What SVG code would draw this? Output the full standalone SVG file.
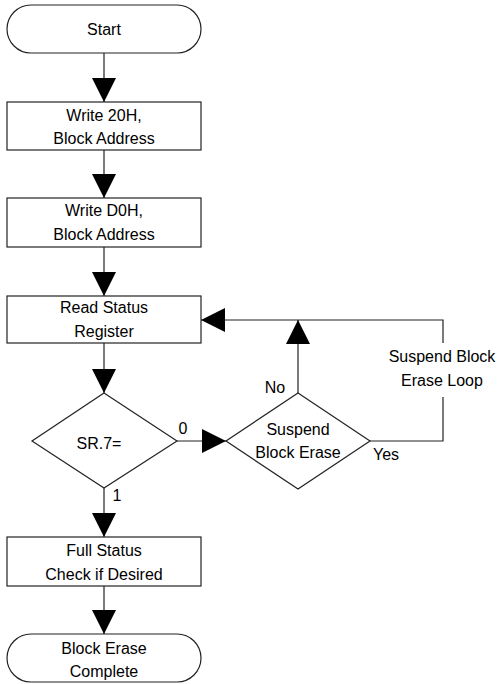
<svg xmlns="http://www.w3.org/2000/svg" width="497" height="684" viewBox="0 0 497 684">
<style>
.shape{fill:#fff;stroke:#222;stroke-width:1.2}
.conn{fill:none;stroke:#222;stroke-width:1.2}
text{font-family:"Liberation Sans",Arial,Helvetica,sans-serif;font-size:16px;fill:#000;text-anchor:middle}
</style>
<defs>
<marker id="ah" viewBox="0 0 24 24" refX="24" refY="12" markerWidth="24" markerHeight="24" markerUnits="userSpaceOnUse" orient="auto">
<path d="M0,0 L24,12 L0,24 Z" fill="#000"/>
</marker>
</defs>
<rect width="497" height="684" fill="#fff"/>
<g id="connectors">
<path class="conn" d="M104,53 V102" marker-end="url(#ah)"/>
<path class="conn" d="M104,150 V198" marker-end="url(#ah)"/>
<path class="conn" d="M104,247 V296" marker-end="url(#ah)"/>
<path class="conn" d="M104,343 V393" marker-end="url(#ah)"/>
<path class="conn" d="M177,441 H226" marker-end="url(#ah)"/>
<path class="conn" d="M298,393 V320" marker-end="url(#ah)"/>
<path class="conn" d="M370,441 H443 V397"/>
<path class="conn" d="M443,343 V320 H201" marker-end="url(#ah)"/>
<path class="conn" d="M104,488 V537" marker-end="url(#ah)"/>
<path class="conn" d="M104,586 V634" marker-end="url(#ah)"/>
<text x="183" y="433.5">0</text>
<text x="117" y="500.5">1</text>
<text x="275" y="392.5">No</text>
<text x="386" y="459.5">Yes</text>
<text x="442" y="361.5">Suspend Block</text>
<text x="442" y="385.5">Erase Loop</text>
</g>
<g id="start">
<rect class="shape" x="7" y="5" width="194" height="48" rx="24" ry="24"/>
<text x="104" y="34.5">Start</text>
</g>
<g id="write20">
<rect class="shape" x="7" y="102" width="194" height="48"/>
<text x="104" y="120.5">Write 20H,</text>
<text x="104" y="143.5">Block Address</text>
</g>
<g id="writeD0">
<rect class="shape" x="7" y="198" width="194" height="49"/>
<text x="104" y="215.5">Write D0H,</text>
<text x="104" y="239.5">Block Address</text>
</g>
<g id="readstatus">
<rect class="shape" x="7" y="296" width="194" height="47"/>
<text x="104" y="312.5">Read Status</text>
<text x="104" y="337">Register</text>
</g>
<g id="sr7">
<polygon class="shape" points="104,393 177,441 104,488 32,441"/>
<text x="99" y="448.5">SR.7=</text>
</g>
<g id="suspend">
<polygon class="shape" points="298,393 370,441 298,489 226,441"/>
<text x="298" y="434.5">Suspend</text>
<text x="298" y="457.5">Block Erase</text>
</g>
<g id="fullstatus">
<rect class="shape" x="7" y="537" width="194" height="49"/>
<text x="104" y="555.5">Full Status</text>
<text x="104" y="579.5">Check if Desired</text>
</g>
<g id="complete">
<rect class="shape" x="7" y="634" width="194" height="48" rx="24" ry="24"/>
<text x="104" y="653.5">Block Erase</text>
<text x="104" y="676.5">Complete</text>
</g>
</svg>
